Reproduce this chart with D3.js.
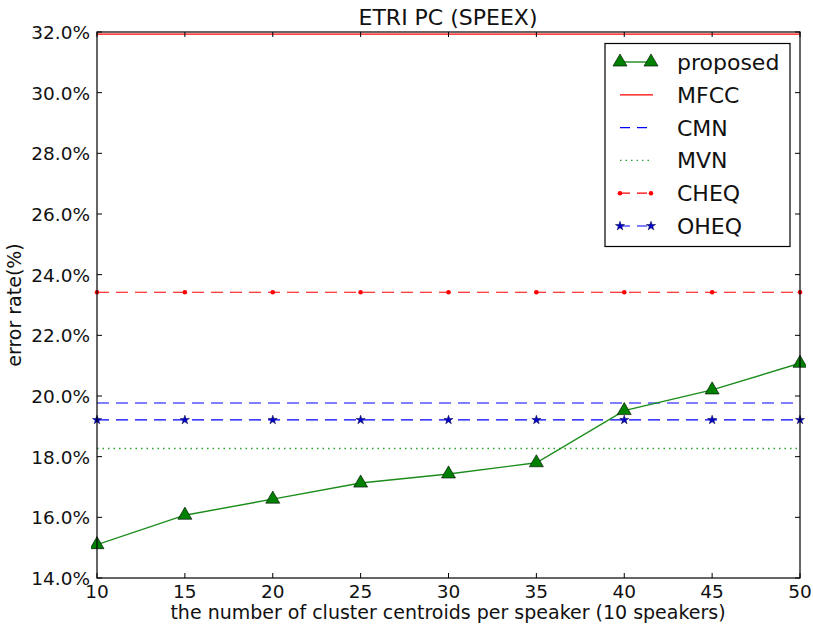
<!DOCTYPE html>
<html><head><meta charset="utf-8">
<script src="https://cdn.jsdelivr.net/npm/d3@7"></script>
<style>body{margin:0;background:#fff}svg{font-family:"DejaVu Sans",sans-serif}</style>
</head><body><svg id="c" width="813" height="626"></svg>
<script>
const xValues = [10, 15, 20, 25, 30, 35, 40, 45, 50];
const proposed = [15.10, 16.07, 16.60, 17.13, 17.43, 17.80, 19.52, 20.20, 21.08];
const mfcc = 31.93;
const cmn = 19.77;
const mvn = 18.27;
const cheq = 23.42;
const oheq = 19.21;
const yTicks = [14, 16, 18, 20, 22, 24, 26, 28, 30, 32];
const xTicks = [10, 15, 20, 25, 30, 35, 40, 45, 50];
const legendNames = ["proposed", "MFCC", "CMN", "MVN", "CHEQ", "OHEQ"];

const svg = d3.select("#c");
const L = 97, R = 800, T = 32, B = 578;
const x = d3.scaleLinear().domain([10, 50]).range([L, R]);
const y = d3.scaleLinear().domain([14, 32]).range([B, T]);

const line = d3.line().x(d => x(d[0])).y(d => y(d[1]));
const flat = v => xValues.map(d => [d, v]);
svg.append("clipPath").attr("id","cp").append("rect").attr("x",L-6).attr("y",T).attr("width",R-L+12).attr("height",B-T);
svg.append("clipPath").attr("id","cp2").append("rect").attr("x",L).attr("y",T).attr("width",R-L).attr("height",B-T);
const pg = svg.append("g").attr("clip-path","url(#cp2)");
const mg = svg.append("g").attr("clip-path","url(#cp)");

pg.append("path").attr("d", line(flat(mfcc))).attr("fill","none").attr("stroke","#ff0000").attr("stroke-width",1.2);
pg.append("path").attr("d", line(flat(cmn))).attr("fill","none").attr("stroke","#0000ff").attr("stroke-width",1.2).attr("stroke-dasharray","12,7");
pg.append("path").attr("d", line(flat(mvn))).attr("fill","none").attr("stroke","#2ca02c").attr("stroke-width",1.3).attr("stroke-dasharray","1.5,4");
pg.append("path").attr("d", line(flat(cheq))).attr("fill","none").attr("stroke","#ff0000").attr("stroke-width",1.2).attr("stroke-dasharray","12,7");
mg.selectAll(".cheq").data(xValues).enter().append("circle").attr("cx", d => x(d)).attr("cy", y(cheq)).attr("r", 2.3).attr("fill","#ff0000");
pg.append("path").attr("d", line(flat(oheq))).attr("fill","none").attr("stroke","#0000ff").attr("stroke-width",1.2).attr("stroke-dasharray","12,7");
const star = d3.symbol().type(d3.symbolStar).size(26);
mg.selectAll(".oheq").data(xValues).enter().append("path").attr("d", star()).attr("transform", d => `translate(${x(d)},${y(oheq)})`).attr("fill","#0000cc").attr("stroke","#000040").attr("stroke-width",0.5);
pg.append("path").attr("d", line(xValues.map((d,i)=>[d, proposed[i]]))).attr("fill","none").attr("stroke","#1a8c1a").attr("stroke-width",1.4);
const tri = d3.symbol().type(d3.symbolTriangle).size(85);
mg.selectAll(".prop").data(xValues).enter().append("path").attr("d", tri()).attr("transform", (d,i) => `translate(${x(d)},${y(proposed[i])})`).attr("fill","#008000").attr("stroke","#000").attr("stroke-width",0.6);

svg.append("rect").attr("x",L).attr("y",T).attr("width",R-L).attr("height",B-T).attr("fill","none").attr("stroke","#000").attr("stroke-width",1.2);
const tk = svg.append("g").attr("stroke","#000").attr("stroke-width",1);
xTicks.forEach(t => {
  tk.append("line").attr("x1",x(t)).attr("x2",x(t)).attr("y1",B).attr("y2",B-5);
  tk.append("line").attr("x1",x(t)).attr("x2",x(t)).attr("y1",T).attr("y2",T+5);
});
yTicks.forEach(t => {
  tk.append("line").attr("x1",L).attr("x2",L+5).attr("y1",y(t)).attr("y2",y(t));
  tk.append("line").attr("x1",R).attr("x2",R-5).attr("y1",y(t)).attr("y2",y(t));
});
svg.selectAll(".xl").data(xTicks).enter().append("text").attr("x", d => x(d)).attr("y", B+20).attr("text-anchor","middle").attr("font-size",18.5).attr("fill","#111").text(d => d);
svg.selectAll(".yl").data(yTicks).enter().append("text").attr("x", L-7).attr("y", d => y(d)+7).attr("text-anchor","end").attr("font-size",18.5).attr("fill","#111").text(d => d.toFixed(1)+"%");

svg.append("text").attr("x",448).attr("y",25).attr("text-anchor","middle").attr("font-size",22).attr("fill","#111").text("ETRI PC (SPEEX)");
svg.append("text").attr("x",448).attr("y",619).attr("text-anchor","middle").attr("font-size",19).attr("fill","#111").text("the number of cluster centroids per speaker (10 speakers)");
svg.append("text").attr("transform","translate(21,305) rotate(-90)").attr("text-anchor","middle").attr("font-size",19).attr("fill","#111").text("error rate(%)");

const lg = svg.append("g");
lg.append("rect").attr("x",605).attr("y",43.5).attr("width",185).attr("height",203).attr("fill","#fff").attr("stroke","#000").attr("stroke-width",1.2);
const ly = i => 62 + i*32.8;
const lx1 = 620, lx2 = 651;
legendNames.forEach((n,i) => {
  lg.append("text").attr("x",677).attr("y",ly(i)+8).attr("font-size",22).attr("fill","#111").text(n);
});
lg.append("line").attr("x1",lx1).attr("x2",lx2).attr("y1",ly(0)).attr("y2",ly(0)).attr("stroke","#1a8c1a").attr("stroke-width",1.4);
[lx1,lx2].forEach(px => lg.append("path").attr("d",tri()).attr("transform",`translate(${px},${ly(0)})`).attr("fill","#008000").attr("stroke","#000").attr("stroke-width",0.6));
lg.append("line").attr("x1",lx1).attr("x2",lx2+2).attr("y1",ly(1)).attr("y2",ly(1)).attr("stroke","#ff0000").attr("stroke-width",1.2);
lg.append("line").attr("x1",lx1).attr("x2",lx2+2).attr("y1",ly(2)).attr("y2",ly(2)).attr("stroke","#0000ff").attr("stroke-width",1.2).attr("stroke-dasharray","10,7");
lg.append("line").attr("x1",lx1).attr("x2",lx2+2).attr("y1",ly(3)).attr("y2",ly(3)).attr("stroke","#2ca02c").attr("stroke-width",1.3).attr("stroke-dasharray","1.5,4");
lg.append("line").attr("x1",lx1).attr("x2",lx2).attr("y1",ly(4)).attr("y2",ly(4)).attr("stroke","#ff0000").attr("stroke-width",1.2).attr("stroke-dasharray","10,7");
[lx1,lx2].forEach(px => lg.append("circle").attr("cx",px).attr("cy",ly(4)).attr("r",2.3).attr("fill","#ff0000"));
lg.append("line").attr("x1",lx1).attr("x2",lx2).attr("y1",ly(5)).attr("y2",ly(5)).attr("stroke","#0000ff").attr("stroke-width",1.2).attr("stroke-dasharray","10,7");
[lx1,lx2].forEach(px => lg.append("path").attr("d",star()).attr("transform",`translate(${px},${ly(5)})`).attr("fill","#0000cc").attr("stroke","#000040").attr("stroke-width",0.5));
</script></body></html>
